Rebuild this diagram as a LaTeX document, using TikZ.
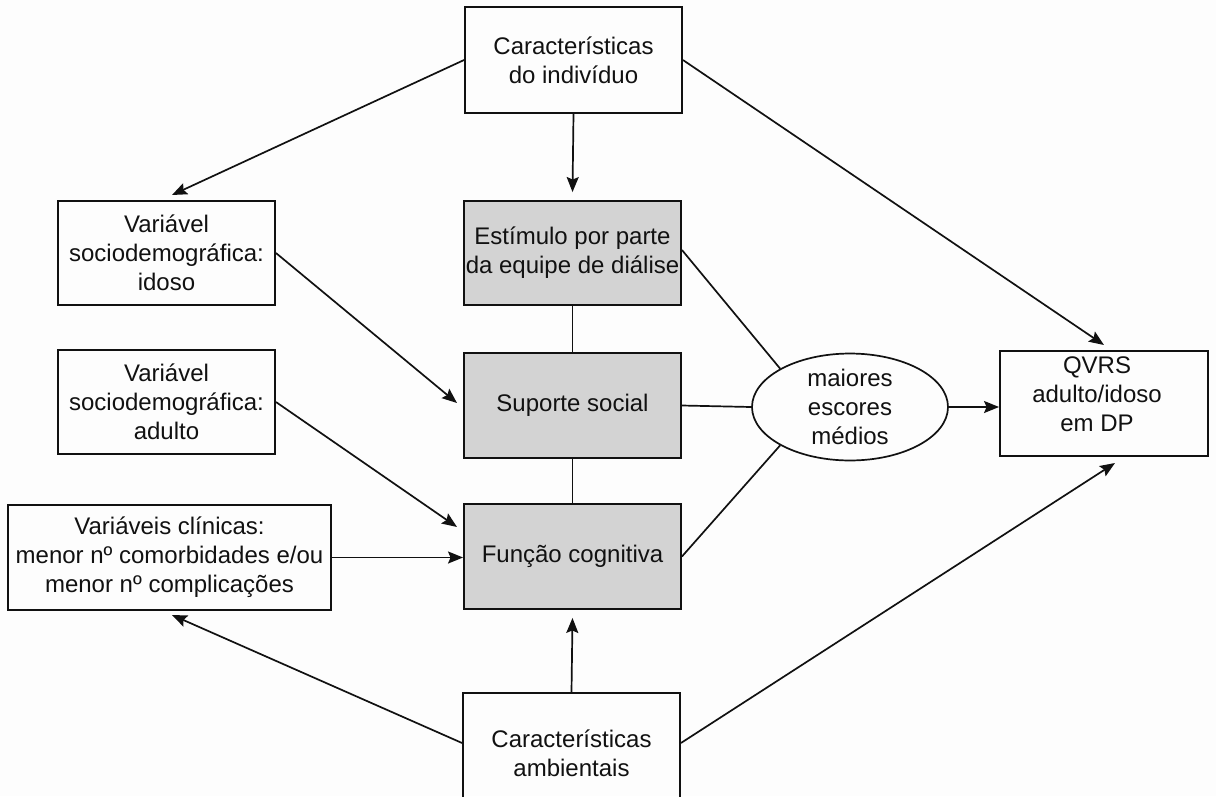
\documentclass[tikz,border=0pt]{standalone}
\usepackage{fontspec}
\setmainfont{Liberation Sans}
\usetikzlibrary{arrows.meta,shapes.geometric,calc}
\definecolor{boxgray}{HTML}{D3D3D3}
\definecolor{bg}{HTML}{FDFDFD}
\definecolor{ink}{HTML}{111111}
\begin{document}
\begin{tikzpicture}[x=1pt,y=-1pt,
  txt/.style={align=center, font=\fontsize{24}{29}\selectfont, text=ink},
  box/.style={txt, draw=ink, line width=1.9pt, rectangle, inner sep=0pt},
  gbox/.style={box, fill=boxgray},
  arr/.style={draw=ink, line width=1.7pt, -{Stealth[length=15pt,width=12pt,inset=2.5pt]}},
  ln/.style={draw=ink, line width=1.7pt}]
\fill[bg] (0,0) rectangle (1216,796);
\useasboundingbox (0,0) rectangle (1216,796);

% nodes
\node[box, minimum width=217pt, minimum height=106pt] (ind) at (573.5,60) {Características\\do indivíduo};
\node[gbox, minimum width=217pt, minimum height=104pt] (est) at (572.5,253) {Estímulo por parte\\da equipe de diálise};
\node[gbox, minimum width=217pt, minimum height=105pt] (sup) at (572.5,405.5) {Suporte social};
\node[gbox, minimum width=217pt, minimum height=105pt] (func) at (572.5,556.5) {Função cognitiva};
\node[box, minimum width=217pt, minimum height=104pt] (idoso) at (166.5,253) {Variável\\sociodemográfica:\\idoso};
\node[box, minimum width=217pt, minimum height=104pt] (adulto) at (166.5,402) {Variável\\sociodemográfica:\\adulto};
\node[box, minimum width=323pt, minimum height=105pt] (clin) at (169.5,557.5) {Variáveis clínicas:\\menor nº comorbidades e/ou\\menor nº complicações};
\node[box, minimum width=217pt, minimum height=120pt] (amb) at (571.5,753) {Características\\ambientais};
\node[draw=ink, line width=1.7pt, ellipse, inner sep=0pt, minimum width=196pt, minimum height=104pt, txt] (ell) at (850,407) {maiores\\escores\\médios};
\node[box, minimum width=208pt, minimum height=105pt] (qvrs) at (1104,403.5) {};
\node[txt] (qvrstxt) at (1097,394) {QVRS\\adulto/idoso\\em DP};

% arrow tips
\coordinate (t1) at (172,195);
\coordinate (t3) at (1104,345);
\coordinate (t4) at (457,403);
\coordinate (t5) at (457,527);
\coordinate (t8) at (172,615);
\coordinate (t9) at (1115,463);

% arrows
\draw[arr] (ind.west) -- (t1);
\draw[arr] (ind.south) -- ($(est.north)+(0,-8)$);
\draw[arr] (ind.east) -- (t3);
\draw[arr] (idoso.east) -- (t4);
\draw[arr] (adulto.east) -- (t5);
\draw[arr] (clin.east) -- (clin.east -| func.west);
\draw[arr] (amb.north) -- ($(func.south)+(0,8)$);
\draw[arr] ($(amb.west)+(0,-10)$) -- (t8);
\draw[arr] ($(amb.east)+(0,-10)$) -- (t9);
\draw[arr] (ell.east) -- (ell.east -| qvrs.west);

% plain lines
\draw[ln] (est.south) -- (sup.north);
\draw[ln] (sup.south) -- (func.north);
\draw[ln] (sup.east) -- (ell.west);
\draw[ln] ($(est.east)+(0,-3)$) -- (ell.north west);
\draw[ln] (func.east) -- (ell.south west);
\end{tikzpicture}
\end{document}
